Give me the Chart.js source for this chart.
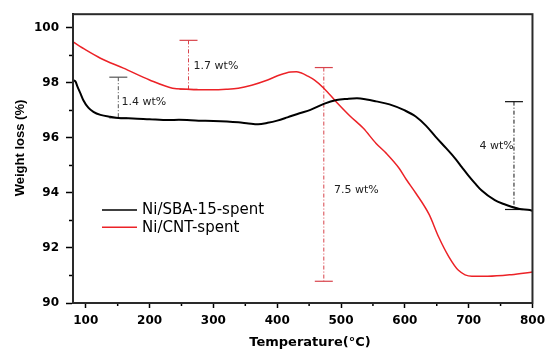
<!DOCTYPE html>
<html>
<head>
<meta charset="utf-8">
<script src="https://cdn.jsdelivr.net/npm/chart.js@4.4.0/dist/chart.umd.min.js"></script>
<style>
  body { margin: 0; background: #fff; }
</style>
</head>
<body>
<canvas id="c" width="551" height="350"></canvas>
<script>
// TGA curves
const sbaTemp = [80, 84, 87, 92, 96, 104, 112, 123, 138, 155, 174, 200, 230, 246, 277, 300, 339, 355, 370, 385, 400, 416, 435, 452, 473, 493, 510, 525, 540, 555, 576, 600, 617, 633, 648, 665, 679, 689, 699, 710, 720, 741, 755, 767, 780, 796, 800];
const sbaWeight = [98.1, 98.05, 97.87, 97.6, 97.38, 97.1, 96.95, 96.84, 96.77, 96.72, 96.71, 96.68, 96.65, 96.66, 96.63, 96.62, 96.57, 96.53, 96.5, 96.55, 96.63, 96.75, 96.9, 97.02, 97.24, 97.38, 97.42, 97.44, 97.4, 97.33, 97.22, 97.0, 96.78, 96.45, 96.05, 95.62, 95.25, 94.95, 94.65, 94.35, 94.1, 93.74, 93.6, 93.5, 93.42, 93.38, 93.35];

const cntTemp = [80, 100, 123, 159, 200, 236, 257, 277, 298, 320, 339, 360, 385, 405, 421, 430, 437, 447, 458, 473, 493, 514, 535, 555, 571, 591, 602, 617, 638, 653, 669, 684, 705, 730, 767, 800];
const cntWeight = [99.49, 99.2, 98.9, 98.54, 98.11, 97.81, 97.77, 97.75, 97.75, 97.77, 97.81, 97.92, 98.11, 98.3, 98.4, 98.41, 98.37, 98.26, 98.11, 97.81, 97.3, 96.8, 96.35, 95.8, 95.44, 94.9, 94.5, 94.0, 93.22, 92.4, 91.68, 91.19, 90.97, 90.97, 91.03, 91.13];

const seriesNames = ['Ni/SBA-15-spent', 'Ni/CNT-spent'];

// ticks
const xMajor = [100, 200, 300, 400, 500, 600, 700, 800];
const xMinor = [150, 250, 350, 450, 550, 650, 750];
const yMajor = [90, 92, 94, 96, 98, 100];
const yMinor = [91, 93, 95, 97, 99];

// weight-loss steps marked on the plot
const stepTemp = [151, 261, 473, 771];
const stepTop = [98.21, 99.55, 98.56, 97.32];
const stepBottom = [96.73, 97.77, 90.79, 93.4];
const stepLabels = ['1.4 wt%', '1.7 wt%', '7.5 wt%', '4 wt%'];
const stepLabelTemp = [156, 269, 489, 717];
const stepLabelWeight = [97.3, 98.6, 94.1, 95.71];

const stepColors = ['#555', '#d8434b', '#d8434b', '#111'];

Chart.defaults.color = '#000';

const line = (ctx, x1, y1, x2, y2) => {
  ctx.beginPath();
  ctx.moveTo(x1, y1);
  ctx.lineTo(x2, y2);
  ctx.stroke();
};

// dashed step markers, under the curves
const steps = {
  id: 'steps',
  beforeDatasetsDraw(chart) {
    const { ctx, scales: { x, y } } = chart;
    ctx.save();
    stepTemp.forEach((t, i) => {
      const px = x.getPixelForValue(t);
      const top = y.getPixelForValue(stepTop[i]);
      const bot = y.getPixelForValue(stepBottom[i]);
      ctx.strokeStyle = stepColors[i];
      ctx.lineWidth = 1;
      ctx.setLineDash([4, 2, 1, 2]);
      line(ctx, px, top, px, bot);
      ctx.setLineDash([]);
      ctx.lineWidth = 1.2;
      line(ctx, px - 9, top, px + 9, top);
      line(ctx, px - 9, bot, px + 9, bot);
      ctx.fillStyle = '#222';
      ctx.font = '11px "DejaVu Sans"';
      ctx.textBaseline = 'middle';
      ctx.fillText(stepLabels[i], x.getPixelForValue(stepLabelTemp[i]), y.getPixelForValue(stepLabelWeight[i]));
    });
    ctx.restore();
  }
};

// frame, minor ticks, legend and axis titles
const frame = {
  id: 'frame',
  afterDraw(chart) {
    const { ctx, chartArea: a, scales: { x, y } } = chart;
    ctx.save();
    ctx.strokeStyle = '#000';
    ctx.lineWidth = 1.5;
    xMinor.forEach(v => {
      const px = x.getPixelForValue(v);
      line(ctx, px, a.bottom, px, a.bottom + 3);
    });
    yMinor.forEach(v => {
      const py = y.getPixelForValue(v);
      line(ctx, a.left - 4, py, a.left, py);
    });
    ctx.strokeStyle = '#2a2a2a';
    ctx.lineWidth = 2;
    ctx.strokeRect(a.left, a.top, a.right - a.left, a.bottom - a.top);

    // legend
    ctx.font = '15px "DejaVu Sans"';
    ctx.textBaseline = 'middle';
    chart.data.datasets.forEach((ds, i) => {
      const ly = 210 + i * 17.3;
      ctx.strokeStyle = ds.borderColor;
      ctx.lineWidth = 1.5;
      line(ctx, 102, ly, 137, ly);
      ctx.fillStyle = '#000';
      ctx.fillText(ds.label, 142, ly + 0.5);
    });

    // axis titles
    ctx.fillStyle = '#000';
    ctx.textAlign = 'center';
    ctx.font = 'bold 13px "DejaVu Sans"';
    ctx.fillText('Temperature(°C)', 310, 343);
    ctx.translate(20, 148);
    ctx.rotate(-Math.PI / 2);
    ctx.font = 'bold 13px "Liberation Sans"';
    ctx.fillText('Weight loss (%)', 0, 0);
    ctx.restore();
  }
};

new Chart(document.getElementById('c'), {
  type: 'line',
  data: {
    datasets: [
      {
        label: seriesNames[0],
        data: sbaTemp.map((t, i) => ({ x: t, y: sbaWeight[i] })),
        borderColor: '#000',
        borderWidth: 2,
        pointRadius: 0,
        cubicInterpolationMode: 'monotone'
      },
      {
        label: seriesNames[1],
        data: cntTemp.map((t, i) => ({ x: t, y: cntWeight[i] })),
        borderColor: '#ec2227',
        borderWidth: 1.5,
        pointRadius: 0,
        cubicInterpolationMode: 'monotone'
      }
    ]
  },
  options: {
    responsive: false,
    animation: false,
    devicePixelRatio: 1,
    layout: { padding: { left: 0, right: 13, top: 14, bottom: 0 } },
    plugins: { legend: { display: false }, tooltip: { enabled: false } },
    scales: {
      x: {
        type: 'linear',
        min: 80,
        max: 800,
        afterBuildTicks: s => { s.ticks = xMajor.map(v => ({ value: v })); },
        afterFit: s => { s.height = 47; },
        grid: { drawOnChartArea: false, tickLength: 5, tickColor: '#000', tickWidth: 1.5 },
        border: { color: '#111', width: 2 },
        ticks: { autoSkip: false, maxRotation: 0, padding: 6, font: { family: 'DejaVu Sans', weight: 'bold', size: 12 } }
      },
      y: {
        type: 'linear',
        min: 90,
        max: 100.5,
        afterBuildTicks: s => { s.ticks = yMajor.map(v => ({ value: v })); },
        afterFit: s => { s.width = 73; },
        grid: { drawOnChartArea: false, tickLength: 7, tickColor: '#000', tickWidth: 1.5 },
        border: { color: '#111', width: 2 },
        ticks: { autoSkip: false, padding: 7, font: { family: 'DejaVu Sans', weight: 'bold', size: 12 } }
      }
    }
  },
  plugins: [steps, frame]
});
</script>
</body>
</html>
